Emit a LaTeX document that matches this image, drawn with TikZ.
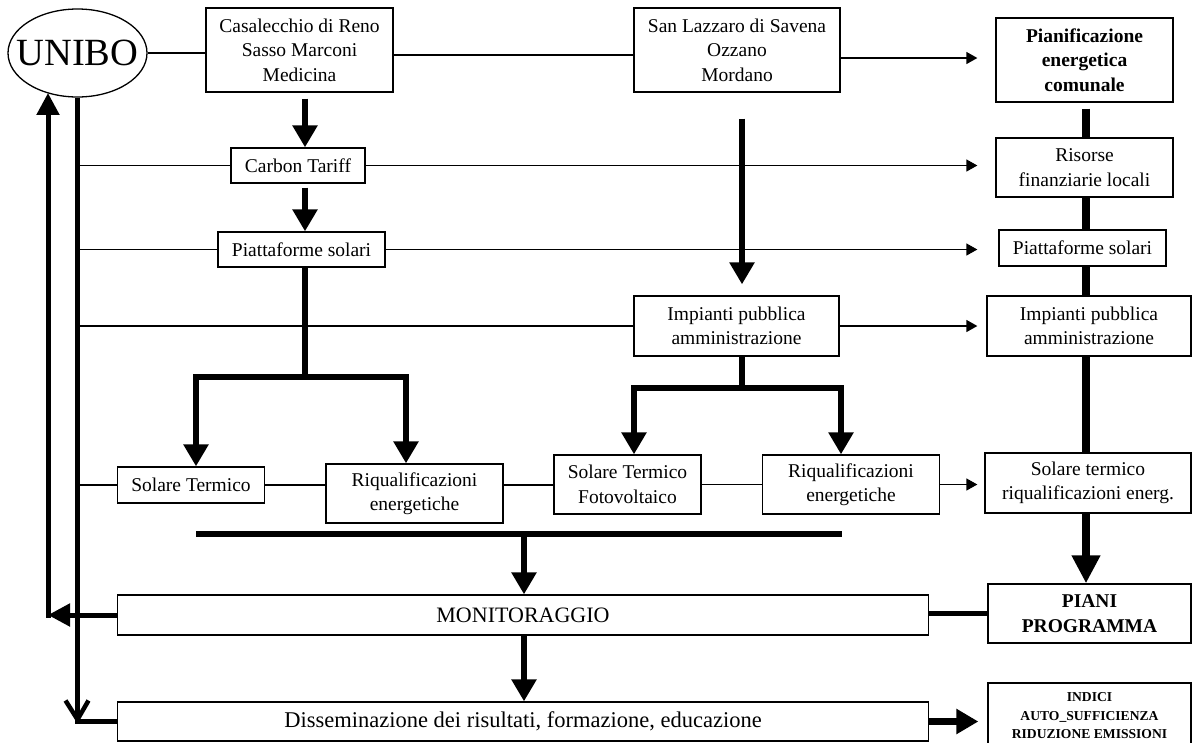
\documentclass[tikz,border=0pt]{standalone}
\usepackage{fontspec}
\setmainfont{Liberation Serif}
\usetikzlibrary{arrows.meta,shapes.geometric}
\tikzset{
  box/.style={draw, line width=1.3pt, inner sep=0pt, align=center, font=\fontsize{19.5}{24.5}\selectfont},
  boldbox/.style={box, font=\fontsize{19.5}{24.5}\selectfont\bfseries},
  thinline/.style={line width=1.3pt},
  thinarrow/.style={line width=1.3pt, -{Triangle[length=11pt,width=12pt]}},
  thickline/.style={line width=5.5pt},
  thickarrow/.style={line width=5.5pt, -{Triangle[length=22pt,width=24pt]}},
  rightline/.style={line width=8pt},
  rightarrow/.style={line width=8pt, -{Triangle[length=28pt,width=27pt]}},
}
\begin{document}
\begin{tikzpicture}[x=1pt,y=-1pt]
\useasboundingbox[fill=white] (0,0) rectangle (1193,742);

% nodes
\node[draw, ellipse, line width=1.3pt, minimum width=139pt, minimum height=88pt, inner sep=0pt] (unibo) at (77.5,53) {};
\node[font=\fontsize{38.5}{40}\selectfont, inner sep=0pt] (unibotext) at (77.5,53) {UNIBO};
\node[box, minimum width=187pt, minimum height=84pt] (b1) at (299.5,50) {Casalecchio di Reno\\Sasso Marconi\\Medicina};
\node[box, minimum width=206pt, minimum height=84pt] (b2) at (737,50) {San Lazzaro di Savena\\Ozzano\\Mordano};
\node[boldbox, minimum width=177pt, minimum height=84pt] (pian) at (1084.5,60) {Pianificazione\\energetica\\comunale};
\node[box, minimum width=134pt, minimum height=35pt] (carbon) at (298,165.5) {Carbon Tariff};
\node[box, minimum width=177pt, minimum height=59pt] (ris) at (1084.5,167.5) {Risorse\\finanziarie locali};
\node[box, minimum width=167pt, minimum height=35pt] (piat1) at (301.5,249.5) {Piattaforme solari};
\node[box, minimum width=167pt, minimum height=36pt] (piat2) at (1082.5,248) {Piattaforme solari};
\node[box, minimum width=205pt, minimum height=60pt] (imp1) at (736.5,326) {Impianti pubblica\\amministrazione};
\node[box, minimum width=204pt, minimum height=60pt] (imp2) at (1089,326) {Impianti pubblica\\amministrazione};
\node[box, minimum width=147pt, minimum height=36pt] (st1) at (191,485) {Solare Termico};
\node[box, minimum width=177pt, minimum height=59pt] (rq1) at (414.5,493.5) {Riqualificazioni\\energetiche};
\node[box, minimum width=147pt, minimum height=59pt] (stf) at (627.5,484.5) {Solare Termico\\Fotovoltaico};
\node[box, minimum width=177pt, minimum height=59pt] (rq2) at (851,484.5) {Riqualificazioni\\energetiche};
\node[box, minimum width=206pt, minimum height=60pt] (st2) at (1088,483) {Solare termico\\riqualificazioni energ.};
\node[box, minimum width=811.5pt, minimum height=40pt, font=\fontsize{22}{24}\selectfont] (mon) at (523,615) {MONITORAGGIO};
\node[boldbox, minimum width=203pt, minimum height=59pt] (piani) at (1089.5,613.5) {PIANI\\PROGRAMMA};
\node[box, minimum width=811.5pt, minimum height=39pt, font=\fontsize{22.5}{26}\selectfont] (dis) at (523,721.5) {Disseminazione dei risultati, formazione, educazione};
\node[box, minimum width=203pt, minimum height=66pt, font=\fontsize{13.6}{18.5}\selectfont\bfseries] (ind) at (1089.5,716) {INDICI\\AUTO\_SUFFICIENZA\\RIDUZIONE EMISSIONI};

% helper coordinates
\coordinate (xa) at (305,0);
\coordinate (xb) at (742,0);
\coordinate (xr) at (1086,0);
\coordinate (bl) at (196,377);
\coordinate (br) at (406,377);
\coordinate (ml) at (634,388);
\coordinate (mr) at (841,388);
\coordinate (bb1) at (196,534);
\coordinate (bb2) at (842,534);
\coordinate (bm) at (524,534);
\coordinate (cmon) at (48,615);
\coordinate (cdis) at (unibo.south |- dis.west);

% top row thin connectors
\draw[thinline] (unibo.east) -- (unibo.east -| b1.west);
\draw[thinline] ([yshift=-5pt]b1.east) -- ([yshift=-5pt]b1.east -| b2.west);
\draw[thinarrow, shorten >=18pt] ([yshift=-8pt]b2.east) -- ([yshift=-8pt]b2.east -| pian.west);

% from UNIBO vertical
\draw[thinline] (unibo.south |- carbon.west) -- (carbon.west);
\draw[thinarrow, shorten >=18pt] (carbon.east) -- (carbon.east -| ris.west);
\draw[thinline] (unibo.south |- piat1.west) -- (piat1.west);
\draw[thinarrow, shorten >=21pt] (piat1.east) -- (piat1.east -| piat2.west);
\draw[thinline] (unibo.south |- imp1.west) -- (imp1.west);
\draw[thinarrow, shorten >=9pt] (imp1.east) -- (imp1.east -| imp2.west);
\draw[thinline] (unibo.south |- st1.west) -- (st1.west);
\draw[thinline] (st1.east) -- (st1.east -| rq1.west);
\draw[thinline] (st1.east -| rq1.east) -- (st1.east -| stf.west);
\draw[thinline] (stf.east) -- (stf.east -| rq2.west);
\draw[thinarrow, shorten >=7pt] (rq2.east) -- (rq2.east -| st2.west);

% left branch
\draw[thickarrow, shorten <=6pt] (b1.south -| xa) -- (carbon.north -| xa);
\draw[thickarrow, shorten <=4pt] (carbon.south -| xa) -- (piat1.north -| xa);
\draw[thickline] (piat1.south -| xa) -- (xa |- bl);
\draw[thickline, line cap=rect] (bl) -- (br);
\draw[thickarrow] (bl) -- (bl |- st1.north);
\draw[thickarrow] (br) -- (br |- rq1.north);

% middle branch
\draw[thickarrow, shorten <=26pt, shorten >=11pt] (b2.south -| xb) -- (imp1.north -| xb);
\draw[thickline] (imp1.south -| xb) -- (xb |- ml);
\draw[thickline, line cap=rect] (ml) -- (mr);
\draw[thickarrow] (ml) -- (ml |- stf.north);
\draw[thickarrow] (mr) -- (mr |- rq2.north);

% right column
\draw[rightline, shorten <=6pt] (pian.south -| xr) -- (ris.north -| xr);
\draw[rightline] (ris.south -| xr) -- (piat2.north -| xr);
\draw[rightline] (piat2.south -| xr) -- (imp2.north -| xr);
\draw[rightline] (imp2.south -| xr) -- (st2.north -| xr);
\draw[rightarrow] (st2.south -| xr) -- (piani.north -| xr);

% bottom
\draw[thickline] (bb1) -- (bb2);
\draw[thickarrow] (bm) -- (bm |- mon.north);
\draw[thickarrow] (mon.south -| bm) -- (dis.north -| bm);
\draw[line width=5pt] (piani.west) -- (piani.west -| mon.east);
\draw[line width=7pt, -{Triangle[length=22pt,width=24pt]}, shorten >=9pt] (dis.east) -- (dis.east -| ind.west);

% feedback to UNIBO
\draw[line width=5pt, -{Triangle[length=22pt,width=22pt]}] (mon.west) -- (cmon);
\draw[line width=5pt, -{Triangle[length=22pt,width=22pt]}] ([yshift=-2.5pt]cmon) -- (cmon |- unibo.232);

% UNIBO to dissemination
\draw[line width=5pt, line join=miter] (unibo.south) -- (cdis) -- (dis.west);
\draw[line width=4.5pt, line join=miter] ([shift={(-12,-21)}]cdis) -- ([shift={(0,-2)}]cdis) -- ([shift={(11,-21)}]cdis);
\end{tikzpicture}
\end{document}
